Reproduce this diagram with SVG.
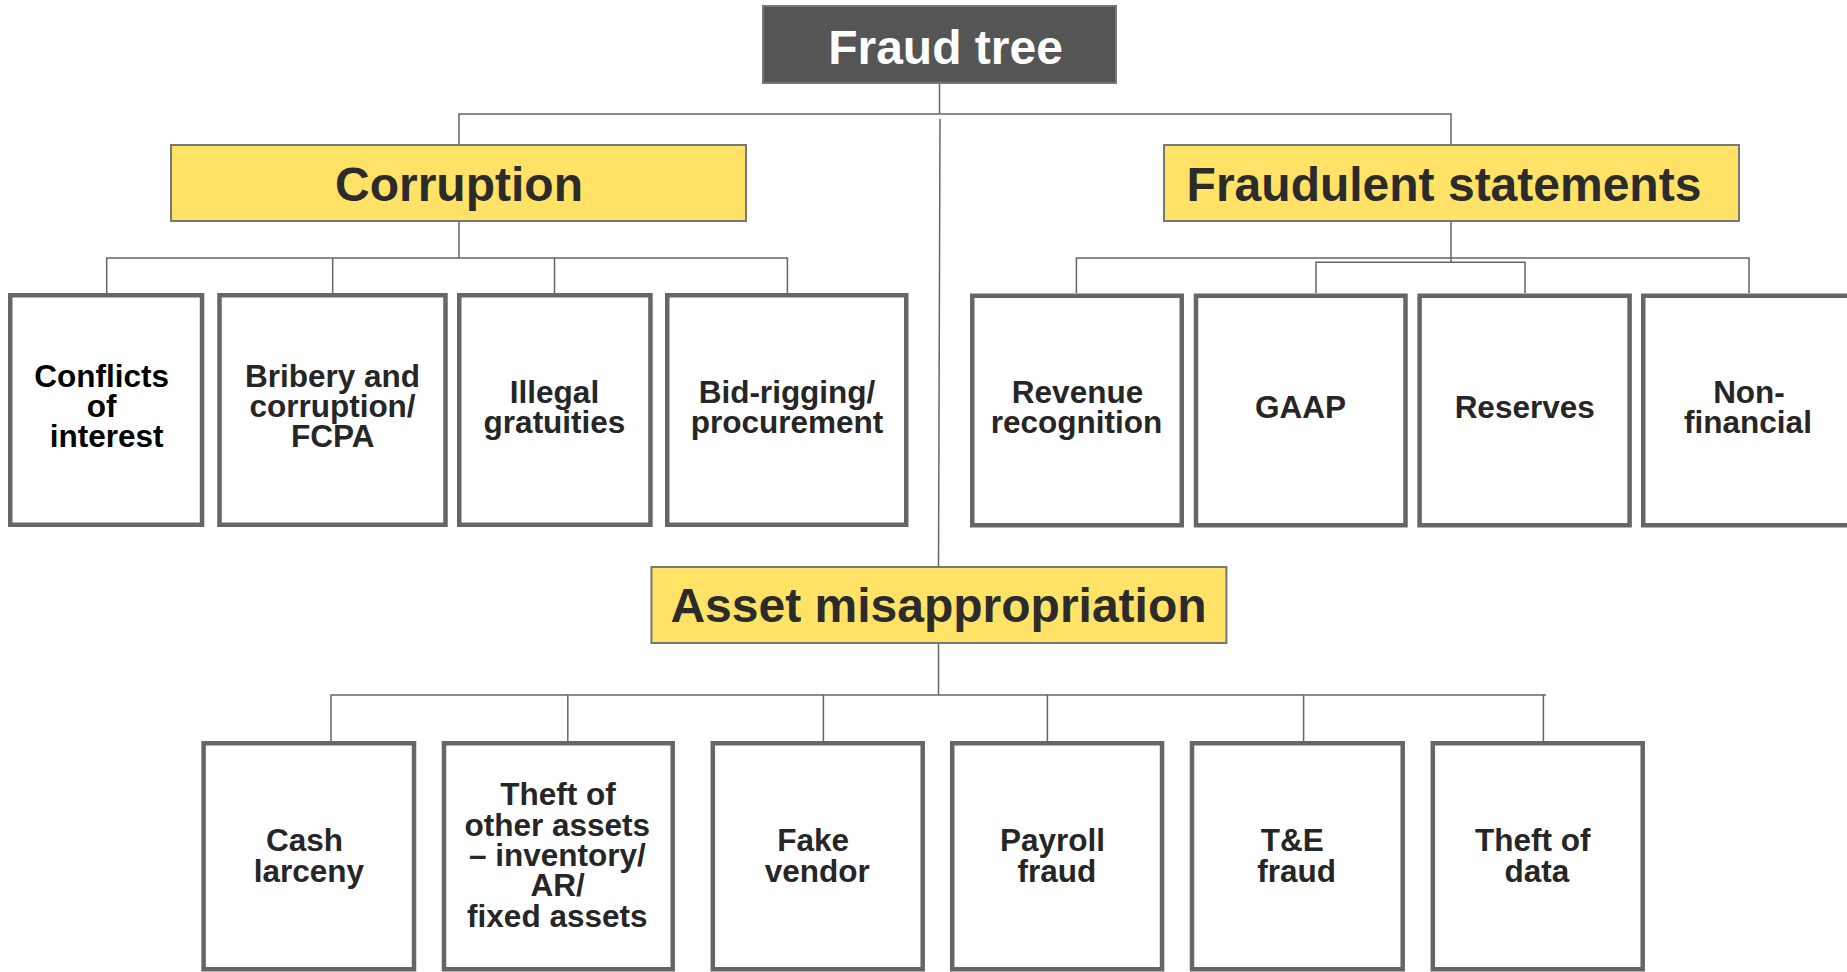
<svg xmlns="http://www.w3.org/2000/svg" width="1847" height="972" viewBox="0 0 1847 972">
<style>
text{font-family:"Liberation Sans",Arial,sans-serif;font-weight:bold;text-anchor:middle}
.hd{fill:#FFE266;stroke:#777;stroke-width:2}
.bx{fill:#fff;stroke:#666;stroke-width:4.5}
.ht{font-size:48px;fill:#2b2b2b}
.ct{font-size:31.5px;fill:#262626}
.cn{fill:none;stroke:#666;stroke-width:1.5}
</style>
<rect width="1847" height="972" fill="#fff"/>
<g id="connectors">
<path class="cn" d="M939.5 84V114M459 144V114H1451V144M940 119L938.5 566"/>
<path class="cn" d="M459 222V258M106.7 293V258H787.4V293M332.7 258V293M554.5 258V293"/>
<path class="cn" d="M1451 222V262M1076.4 293V258H1749V293M1316 293V262.3H1525V293"/>
<path class="cn" d="M938.5 644V695M331 741V695H1546M567.8 695V741M823.4 695V741M1047.4 695V741M1303.6 695V741M1543.4 695V741"/>
</g>
<g id="fraud-tree">
<rect x="763" y="6" width="353" height="77" fill="#555" stroke="#777" stroke-width="2"/>
<text x="945.5" y="63.5" font-size="48" fill="#fff">Fraud tree</text>
</g>
<g id="corruption">
<rect class="hd" x="171" y="145" width="575" height="76"/>
<text class="ht" x="459" y="201">Corruption</text>
</g>
<g id="fraudulent-statements">
<rect class="hd" x="1164" y="145" width="575" height="76"/>
<text class="ht" x="1444" y="200.7">Fraudulent statements</text>
</g>
<g id="asset-misappropriation">
<rect class="hd" x="651.4" y="567" width="575" height="76"/>
<text class="ht" x="938.5" y="621.7">Asset misappropriation</text>
</g>
<g id="conflicts">
<rect class="bx" x="10.25" y="295.25" width="191.8" height="229.5"/>
<text class="ct" style="fill:#000"><tspan x="101.7" y="387.3">Conflicts</tspan><tspan x="101.7" y="417.3">of</tspan><tspan x="106.7" y="447.3">interest</tspan></text>
</g>
<g id="bribery">
<rect class="bx" x="219.5" y="295.25" width="226" height="229.5"/>
<text class="ct"><tspan x="332.5" y="387.3">Bribery and</tspan><tspan x="332.5" y="417.3">corruption/</tspan><tspan x="332.8" y="447.3">FCPA</tspan></text>
</g>
<g id="illegal">
<rect class="bx" x="459.25" y="295.25" width="191.2" height="229.5"/>
<text class="ct"><tspan x="554.5" y="402.7">Illegal</tspan><tspan x="554.5" y="432.7">gratuities</tspan></text>
</g>
<g id="bid-rigging">
<rect class="bx" x="667.25" y="295.25" width="239" height="229.5"/>
<text class="ct"><tspan x="787" y="402.7">Bid-rigging/</tspan><tspan x="787" y="432.7">procurement</tspan></text>
</g>
<g id="revenue">
<rect class="bx" x="972.25" y="295.75" width="209.5" height="229.5"/>
<text class="ct"><tspan x="1077.5" y="403.3">Revenue</tspan><tspan x="1076.5" y="433.3">recognition</tspan></text>
</g>
<g id="gaap">
<rect class="bx" x="1196" y="295.75" width="209.5" height="229.5"/>
<text class="ct" x="1300.5" y="417.8">GAAP</text>
</g>
<g id="reserves">
<rect class="bx" x="1419.6" y="295.75" width="210" height="229.5"/>
<text class="ct" x="1524.7" y="418">Reserves</text>
</g>
<g id="non-financial">
<rect class="bx" x="1643.25" y="295.75" width="210" height="229.5"/>
<text class="ct"><tspan x="1749" y="403.3">Non-</tspan><tspan x="1748" y="433.3">financial</tspan></text>
</g>
<g id="cash-larceny">
<rect class="bx" x="203.6" y="743.25" width="210.4" height="226"/>
<text class="ct"><tspan x="304.5" y="851">Cash</tspan><tspan x="308.8" y="881.5">larceny</tspan></text>
</g>
<g id="theft-other">
<rect class="bx" x="444" y="743.25" width="228.7" height="226"/>
<text class="ct"><tspan x="558" y="805">Theft of</tspan><tspan x="557.3" y="835.7">other assets</tspan><tspan x="557.3" y="865.5">– inventory/</tspan><tspan x="557.6" y="895.7">AR/</tspan><tspan x="557.3" y="926.5">fixed assets</tspan></text>
</g>
<g id="fake-vendor">
<rect class="bx" x="712.8" y="743.25" width="209.9" height="226"/>
<text class="ct"><tspan x="813.2" y="851">Fake</tspan><tspan x="817.2" y="881.5">vendor</tspan></text>
</g>
<g id="payroll">
<rect class="bx" x="952.25" y="743.25" width="209.8" height="226"/>
<text class="ct"><tspan x="1052.6" y="851">Payroll</tspan><tspan x="1056.9" y="881.5">fraud</tspan></text>
</g>
<g id="te-fraud">
<rect class="bx" x="1192" y="743.25" width="210.7" height="226"/>
<text class="ct"><tspan x="1292.3" y="851">T&amp;E</tspan><tspan x="1296.7" y="881.5">fraud</tspan></text>
</g>
<g id="theft-data">
<rect class="bx" x="1432.8" y="743.25" width="209.9" height="226"/>
<text class="ct"><tspan x="1532.7" y="851">Theft of</tspan><tspan x="1537" y="881.5">data</tspan></text>
</g>
</svg>
